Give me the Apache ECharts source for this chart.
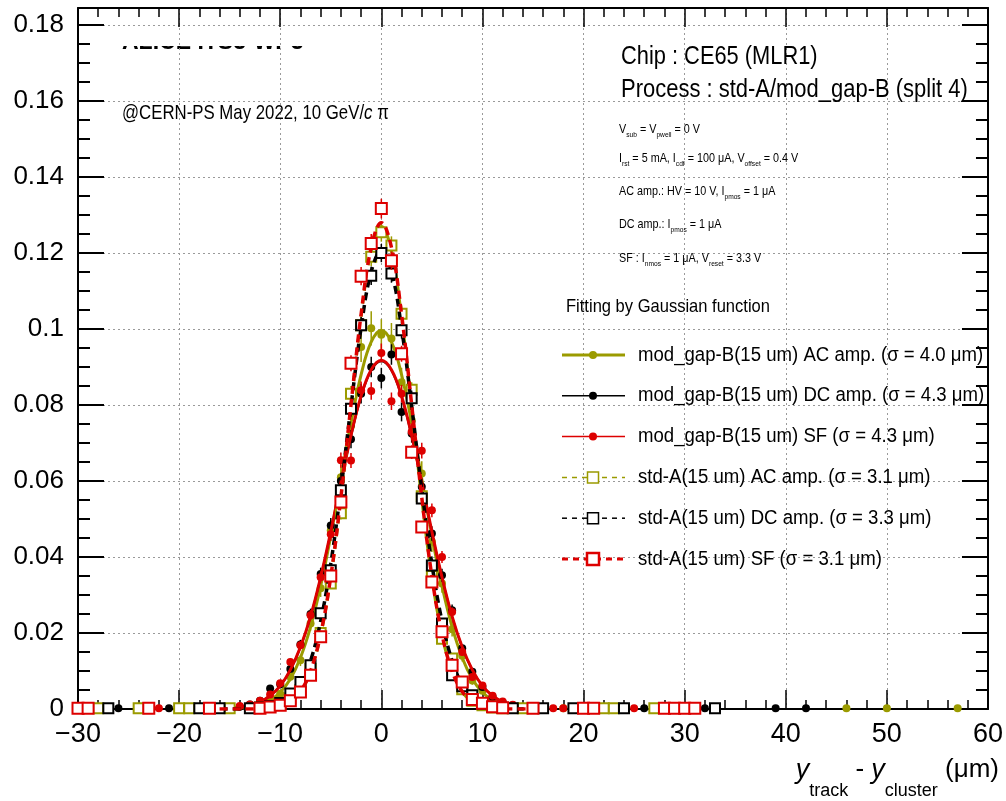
<!DOCTYPE html>
<html><head><meta charset="utf-8">
<script src="https://cdn.jsdelivr.net/npm/echarts@6/dist/echarts.min.js"></script>
<style>html,body{margin:0;padding:0;background:#fff}#c{width:1006px;height:801px}</style>
</head><body><div id="c"></div>
<script>
// ---------- DATA ----------
// measured points: [x (um), normalized entries, stat. error]
const modGapAC = [
  [-24,0.0002,0.0001],[-19,0.0002,0.0001],
  [-13,0.0004,0.00026],[-12,0.0012,0.00045],[-11,0.0025,0.00065],[-10,0.0040,0.0008],[-9,0.0085,0.0012],
  [-8,0.0128,0.0015],[-7,0.0225,0.0019],[-6,0.0318,0.0023],[-5,0.0470,0.0028],[-4,0.0610,0.0032],
  [-3,0.0745,0.0035],[-2,0.0953,0.0040],[-1,0.1002,0.0045],[0,0.0985,0.0041],[1,0.0975,0.0041],
  [2,0.0860,0.0038],[3,0.0760,0.0036],[4,0.0620,0.0032],[5,0.0440,0.0027],[6,0.0330,0.0024],
  [7,0.0210,0.0019],[8,0.0140,0.0015],[9,0.0075,0.0011],[10,0.0048,0.0009],[11,0.0020,0.0006],
  [12,0.0010,0.0004],[13,0.0004,0.00026],
  [16,0.0002,0.0001],[18,0.0002,0.0001],[46,0.0002,0.0001],[50,0.0002,0.0001],[57,0.0002,0.0001]
];
const modGapDC = [
  [-30,0.0002,0.0001],[-26,0.0002,0.0001],[-21,0.0002,0.0001],
  [-15,0.0004,0.0002],[-14,0.0006,0.0002],[-13,0.0012,0.0003],[-12,0.0022,0.0004],[-11,0.0054,0.0007],
  [-10,0.0065,0.0007],[-9,0.0105,0.0009],[-8,0.0170,0.0012],[-7,0.0250,0.0014],[-6,0.0355,0.0017],
  [-5,0.0483,0.0020],[-4,0.0600,0.0022],[-3,0.0710,0.0024],[-2,0.0830,0.0026],[-1,0.0900,0.0027],
  [0,0.0871,0.0027],[1,0.0933,0.0027],[2,0.0782,0.0025],[3,0.0725,0.0024],[4,0.0585,0.0022],
  [5,0.0462,0.0019],[6,0.0352,0.0017],[7,0.0260,0.0015],[8,0.0160,0.0011],[9,0.0098,0.0009],
  [10,0.0058,0.0007],[11,0.0032,0.0005],[12,0.0018,0.0004],[13,0.0010,0.0003],[14,0.0005,0.0002],
  [26,0.0002,0.0001],[27,0.0002,0.0001],[32,0.0002,0.0001],[39,0.0002,0.0001],[42,0.0002,0.0001]
];
const modGapSF = [
  [-28,0.0002,0.0001],[-22,0.0002,0.0001],[-18,0.0002,0.0001],[-17,0.0002,0.0001],
  [-16,0.0003,0.0001],[-15,0.0005,0.0002],[-14,0.0008,0.0002],[-13,0.0012,0.0003],[-12,0.0022,0.0004],
  [-11,0.0038,0.0005],[-10,0.0068,0.0007],[-9,0.0124,0.0009],[-8,0.0168,0.0010],[-7,0.0247,0.0013],
  [-6,0.0347,0.0015],[-5,0.0460,0.0017],[-4,0.0655,0.0020],[-3,0.0654,0.0020],[-2,0.0839,0.0023],
  [-1,0.0837,0.0023],[0,0.0937,0.0025],[1,0.0810,0.0023],[2,0.0830,0.0023],[3,0.0730,0.0022],
  [4,0.0680,0.0021],[5,0.0523,0.0018],[6,0.0400,0.0016],[7,0.0255,0.0013],[8,0.0150,0.0010],
  [9,0.0084,0.0007],[10,0.0062,0.0006],[11,0.0035,0.0005],[12,0.0020,0.0004],[13,0.0011,0.0003],
  [14,0.0006,0.0002],[15,0.0003,0.0001],
  [17,0.0002,0.0001],[18,0.0002,0.0001],[25,0.0002,0.0001]
];
const stdAAC = [
  [-28,0.0002,0.0001],[-24,0.0002,0.0001],[-20,0.0002,0.0001],[-19,0.0002,0.0001],[-15,0.0002,0.0001],
  [-12,0.0003,0.0001],[-11,0.0006,0.0002],[-10,0.0018,0.0003],[-9,0.0028,0.0004],[-8,0.0050,0.0005],
  [-7,0.0105,0.0007],[-6,0.0200,0.0010],[-5,0.0330,0.0013],[-4,0.0515,0.0016],[-3,0.0830,0.0020],
  [-2,0.1010,0.0022],[-1,0.1190,0.0024],[0,0.1255,0.0025],[1,0.1220,0.0024],[2,0.1040,0.0022],
  [3,0.0840,0.0020],[4,0.0560,0.0016],[5,0.0350,0.0013],[6,0.0185,0.0010],[7,0.0133,0.0008],
  [8,0.0052,0.0005],[9,0.0022,0.0003],[10,0.0010,0.0002],[11,0.0004,0.0001],[12,0.0002,0.0001],
  [14,0.0002,0.0001],[22,0.0002,0.0001],[23,0.0002,0.0001],[27,0.0002,0.0001]
];
const stdADC = [
  [-27,0.0002,0.0001],[-18,0.0002,0.0001],[-16,0.0002,0.0001],
  [-13,0.0002,0.0001],[-12,0.0004,0.0001],[-11,0.0008,0.0002],[-10,0.0016,0.0003],[-9,0.0041,0.0004],
  [-8,0.0071,0.0006],[-7,0.0115,0.0008],[-6,0.0252,0.0011],[-5,0.0365,0.0013],[-4,0.0576,0.0017],
  [-3,0.0790,0.0020],[-2,0.1010,0.0022],[-1,0.1140,0.0024],[0,0.1200,0.0024],[1,0.1146,0.0024],
  [2,0.0997,0.0022],[3,0.0818,0.0020],[4,0.0554,0.0016],[5,0.0378,0.0014],[6,0.0225,0.0010],
  [7,0.0089,0.0007],[8,0.0060,0.0005],[9,0.0036,0.0004],[10,0.0014,0.0003],[11,0.0006,0.0002],
  [12,0.0003,0.0001],
  [13,0.0002,0.0001],[16,0.0002,0.0001],[19,0.0002,0.0001],[24,0.0002,0.0001],[33,0.0002,0.0001]
];
const stdASF = [
  [-30,0.0002,0.0001],[-29,0.0002,0.0001],[-23,0.0002,0.0001],[-17,0.0002,0.0001],
  [-12,0.0002,0.0001],[-11,0.0005,0.0002],[-10,0.0010,0.0002],[-9,0.0022,0.0003],[-8,0.0045,0.0005],
  [-7,0.0089,0.0007],[-6,0.0190,0.0010],[-5,0.0350,0.0013],[-4,0.0545,0.0016],[-3,0.0910,0.0021],
  [-2,0.1139,0.0024],[-1,0.1225,0.0025],[0,0.1317,0.0026],[1,0.1180,0.0024],[2,0.0935,0.0021],
  [3,0.0676,0.0018],[4,0.0479,0.0015],[5,0.0334,0.0013],[6,0.0203,0.0010],[7,0.0115,0.0008],
  [8,0.0071,0.0006],[9,0.0025,0.0004],[10,0.0015,0.0003],[11,0.0006,0.0002],[12,0.0003,0.0001],
  [15,0.0002,0.0001],[20,0.0002,0.0001],[21,0.0002,0.0001],[28,0.0002,0.0001],[29,0.0002,0.0001],
  [30,0.0002,0.0001],[31,0.0002,0.0001]
];
// Gaussian fit curves, read at 1 um steps
const fitX = [-16,-15,-14,-13,-12,-11,-10,-9,-8,-7,-6,-5,-4,-3,-2,-1,0,1,2,3,4,5,6,7,8,9,10,11,12,13,14,15,16];
const fitModGapAC = [0.0000,0.0001,0.0002,0.0005,0.0011,0.0023,0.0044,0.0079,0.0135,0.0216,0.0324,0.0456,0.0605,0.0753,0.0880,0.0966,0.0997,0.0966,0.0880,0.0753,0.0605,0.0456,0.0324,0.0216,0.0135,0.0079,0.0044,0.0023,0.0011,0.0005,0.0002,0.0001,0.0000];
const fitModGapDC = [0.0001,0.0002,0.0005,0.0010,0.0019,0.0035,0.0061,0.0102,0.0162,0.0243,0.0346,0.0465,0.0594,0.0717,0.0821,0.0891,0.0915,0.0891,0.0821,0.0717,0.0594,0.0465,0.0346,0.0243,0.0162,0.0102,0.0061,0.0035,0.0019,0.0010,0.0005,0.0002,0.0001];
const fitModGapSF = [0.0001,0.0002,0.0005,0.0010,0.0019,0.0035,0.0061,0.0103,0.0163,0.0244,0.0347,0.0467,0.0596,0.0720,0.0824,0.0893,0.0918,0.0893,0.0824,0.0720,0.0596,0.0467,0.0347,0.0244,0.0163,0.0103,0.0061,0.0035,0.0019,0.0010,0.0005,0.0002,0.0001];
const fitStdAAC = [0,0,0,0,0.0001,0.0002,0.0007,0.0019,0.0045,0.0099,0.0195,0.0346,0.0552,0.0795,0.1031,0.1206,0.1270,0.1206,0.1031,0.0795,0.0552,0.0346,0.0195,0.0099,0.0045,0.0019,0.0007,0.0002,0.0001,0,0,0,0];
const fitStdADC = [0,0,0,0.0001,0.0002,0.0005,0.0012,0.0029,0.0064,0.0127,0.0231,0.0382,0.0578,0.0797,0.1003,0.1151,0.1205,0.1151,0.1003,0.0797,0.0578,0.0382,0.0231,0.0127,0.0064,0.0029,0.0012,0.0005,0.0002,0.0001,0,0,0];
const fitStdASF = [0,0,0,0,0.0001,0.0002,0.0007,0.0019,0.0046,0.0100,0.0197,0.0349,0.0557,0.0801,0.1039,0.1215,0.1280,0.1215,0.1039,0.0801,0.0557,0.0349,0.0197,0.0100,0.0046,0.0019,0.0007,0.0002,0.0001,0,0,0,0];

const legendLabels = [
  'mod_gap-B(15 um) AC amp. (σ = 4.0 μm)',
  'mod_gap-B(15 um) DC amp. (σ = 4.3 μm)',
  'mod_gap-B(15 um) SF (σ = 4.3 μm)',
  'std-A(15 um) AC amp. (σ = 3.1 μm)',
  'std-A(15 um) DC amp. (σ = 3.3 μm)',
  'std-A(15 um) SF (σ = 3.1 μm)'
];
const xMin = -30, xMax = 60, xStep = 10;
const yMin = 0, yMax = 0.1845, yStep = 0.02;

// ---------- STYLE ----------
const OLIVE = '#9b9b00', BLACK = '#000000', RED = '#dd0000';
const FF = '"Liberation Sans", Arial, Helvetica, sans-serif';

const defs = [
  {pts: modGapAC, fit: fitModGapAC, color: OLIVE, sym: 'circle', size: 8, gap: 3, fitW: 3, dash: 'solid', mk: {lw: 3, dash: null}},
  {pts: modGapDC, fit: fitModGapDC, color: BLACK, sym: 'circle', size: 8, gap: 3, fitW: 2, dash: 'solid', mk: {lw: 1.5, dash: null}},
  {pts: modGapSF, fit: fitModGapSF, color: RED, sym: 'circle', size: 8, gap: 3, fitW: 3, dash: 'solid', mk: {lw: 1.5, dash: null}},
  {pts: stdAAC, fit: fitStdAAC, color: OLIVE, sym: 'emptyRect', size: 10, gap: 5, fitW: 3, dash: [8, 5], mk: {lw: 1.5, dash: [5, 5]}},
  {pts: stdADC, fit: fitStdADC, color: BLACK, sym: 'emptyRect', size: 10, gap: 5, fitW: 3.5, dash: [8, 5], mk: {lw: 1.5, dash: [5, 5]}},
  {pts: stdASF, fit: fitStdASF, color: RED, sym: 'emptyRect', size: 11, gap: 5.5, fitW: 3.5, dash: [8, 5], mk: {lw: 3, dash: [6, 5]}}
];

const series = [];
defs.forEach((d, i) => {
  const name = legendLabels[i];
  series.push({
    type: 'custom', name: name, data: d.pts, clip: true, silent: true,
    encode: {x: 0, y: 1},
    renderItem: (params, api) => {
      const x = api.value(0), y = api.value(1), e = api.value(2);
      const c = api.coord([x, y]);
      const t = api.coord([x, y + e]);
      const b = api.coord([x, Math.max(0, y - e)]);
      const ch = [];
      if (c[1] - d.gap > t[1]) ch.push({type: 'line', shape: {x1: c[0], y1: t[1], x2: c[0], y2: c[1] - d.gap}, style: {stroke: d.color, lineWidth: 1.5}});
      if (b[1] > c[1] + d.gap) ch.push({type: 'line', shape: {x1: c[0], y1: c[1] + d.gap, x2: c[0], y2: b[1]}, style: {stroke: d.color, lineWidth: 1.5}});
      return {type: 'group', children: ch};
    },
    z: 2 + i
  });
  series.push({
    type: 'scatter', name: name, data: d.pts.map(p => [p[0], p[1]]),
    symbol: d.sym, symbolSize: d.size,
    itemStyle: {color: d.color, borderColor: d.color, borderWidth: d.sym === 'emptyRect' ? (i === 5 ? 2 : 1.5) : 0, opacity: 1},
    silent: true, z: 2 + i
  });
  series.push({
    type: 'line', name: name, data: fitX.map((x, k) => [x, d.fit[k]]),
    showSymbol: false, symbol: 'none', smooth: 0.4, clip: true, silent: true,
    lineStyle: {color: d.color, width: d.fitW, type: d.dash},
    z: 2 + i
  });
});

// ---------- ANNOTATIONS ----------
function T(x, y, text, size, o) {
  o = o || {};
  return {
    type: 'text', x: x, y: y, scaleX: o.sx || 1, scaleY: 1, z: o.z == null ? 50 : o.z,
    style: {
      text: text, fill: '#000',
      font: (o.style || '') + ' ' + (o.weight || '') + ' ' + size + 'px ' + FF,
      fontSize: size, fontFamily: FF, fontWeight: o.weight || 'normal', fontStyle: o.style || 'normal',
      align: o.align || 'left', textAlign: o.align || 'left',
      verticalAlign: o.va || 'middle', textVerticalAlign: o.va || 'middle',
      lineHeight: o.lh, rich: o.rich
    }
  };
}
const sub8 = {s: {fontSize: 8, fontFamily: FF, lineHeight: 19, verticalAlign: 'bottom'}};
const graphics = [
  // partly hidden top-left label
  T(122, 54, 'ALICE ITS3-WP3', 23, {weight: 'bold', va: 'bottom', z: -2}),
  {type: 'rect', z: -1, shape: {x: 105, y: 9, width: 420, height: 37}, style: {fill: '#fff'}},
  T(122, 113, '@CERN-PS May 2022, 10 GeV/{i|c} π', 21, {sx: 0.8, rich: {i: {fontStyle: 'italic', fontSize: 21, fontFamily: FF}}}),
  T(621, 57, 'Chip : CE65 (MLR1)', 26, {sx: 0.84}),
  T(621, 90, 'Process : std-A/mod_gap-B (split 4)', 26, {sx: 0.845}),
  T(619, 129, 'V{s|sub} = V{s|pwell} = 0 V', 13, {sx: 0.83, lh: 19, rich: sub8}),
  T(619, 158, 'I{s|rst} = 5 mA, I{s|cdf} = 100 μA, V{s|offset} = 0.4 V', 13, {sx: 0.83, lh: 19, rich: sub8}),
  T(619, 191, 'AC amp.: HV = 10 V, I{s|pmos} = 1 μA', 13, {sx: 0.83, lh: 19, rich: sub8}),
  T(619, 224, 'DC amp.: I{s|pmos} = 1 μA', 13, {sx: 0.83, lh: 19, rich: sub8}),
  T(619, 258, 'SF : I{s|nmos} = 1 μA, V{s|reset} = 3.3 V', 13, {sx: 0.83, lh: 19, rich: sub8}),
  T(566, 307, 'Fitting by Gaussian function', 19, {sx: 0.87}),
  // x-axis title
  T(999, 770, '{it|y}{s|track} - {it|y}{s|cluster} (μm)', 26, {align: 'right', lh: 61,
    rich: {it: {fontStyle: 'italic', fontSize: 27, fontFamily: FF}, s: {fontSize: 18, fontFamily: FF, lineHeight: 61, verticalAlign: 'bottom'}}})
];
// legend
defs.forEach((d, i) => {
  const y = 355 + 40.8 * i;
  graphics.push({type: 'line', z: 50, shape: {x1: 562, y1: y, x2: 625, y2: y},
    style: {stroke: d.color, lineWidth: d.mk.lw, lineDash: d.mk.dash || null}});
  if (d.sym === 'circle') {
    graphics.push({type: 'circle', z: 51, shape: {cx: 593, cy: y, r: 4}, style: {fill: d.color}});
  } else {
    const s = i === 5 ? 12 : 11;
    graphics.push({type: 'rect', z: 51, shape: {x: 593 - s / 2, y: y - s / 2, width: s, height: s},
      style: {fill: '#fff', stroke: d.color, lineWidth: i === 5 ? 2.5 : 1.5}});
  }
  graphics.push(T(638, y, legendLabels[i], 20, {sx: 0.93}));
});

// ---------- AXES ----------
const splitDot = {show: true, lineStyle: {color: '#9a9a9a', width: 1, type: [2, 3]}};
const xBase = {type: 'value', min: xMin, max: xMax, interval: xStep,
  axisLine: {show: true, onZero: false, lineStyle: {color: '#000', width: 2}},
  axisTick: {show: true, inside: true, length: 19, lineStyle: {color: '#000', width: 1.5}},
  minorTick: {show: true, splitNumber: 5, length: 9, lineStyle: {color: '#000', width: 1.5}}};
const yBase = {type: 'value', min: yMin, max: yMax, interval: yStep,
  axisLine: {show: true, onZero: false, lineStyle: {color: '#000', width: 2}},
  axisTick: {show: true, inside: true, length: 26, lineStyle: {color: '#000', width: 2}},
  minorTick: {show: true, splitNumber: 4, length: 12, lineStyle: {color: '#000', width: 2}}};

const option = {
  backgroundColor: '#fff',
  animation: false,
  grid: {left: 78, right: 11, top: 8, bottom: 92, containLabel: false},
  xAxis: [
    Object.assign({}, xBase, {position: 'bottom', splitLine: splitDot,
      axisLabel: {show: true, fontSize: 27, fontFamily: FF, color: '#000', margin: 12,
        formatter: v => String(v).replace('-', '\u2212')}}),
    Object.assign({}, xBase, {position: 'top', splitLine: {show: false}, axisLabel: {show: false}})
  ],
  yAxis: [
    Object.assign({}, yBase, {position: 'left', splitLine: splitDot,
      axisLabel: {show: true, fontSize: 26, fontFamily: FF, color: '#000', margin: 14, showMaxLabel: false,
        formatter: v => Math.abs(v / yStep - Math.round(v / yStep)) < 1e-6 ? String(+v.toFixed(2)) : ''}}),
    Object.assign({}, yBase, {position: 'right', splitLine: {show: false}, axisLabel: {show: false}})
  ],
  series: series,
  graphic: graphics
};
const chart = echarts.init(document.getElementById('c'), null, {renderer: 'canvas'});
chart.setOption(option);
</script>
</body></html>
